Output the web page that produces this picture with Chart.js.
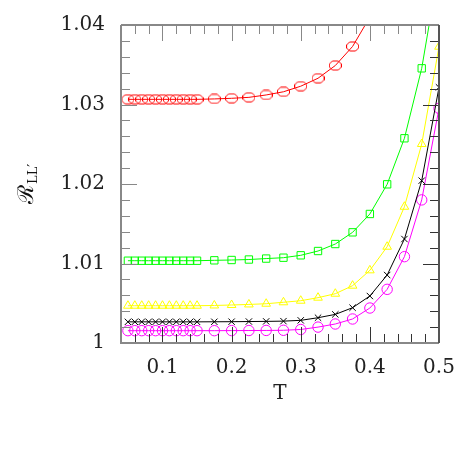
<!DOCTYPE html>
<html>
<head>
<meta charset="utf-8">
<script src="https://cdn.jsdelivr.net/npm/chart.js@4"></script>
<style>
  html, body { margin: 0; padding: 0; background: #fff; }
  canvas { display: block; }
</style>
</head>
<body>
<canvas id="chart" width="463" height="463"></canvas>
<script>
// temperatures (shared by all curves)
const temps = [0.05, 0.06, 0.07, 0.08, 0.09, 0.10, 0.11, 0.12, 0.13, 0.14, 0.15,
               0.175, 0.2, 0.225, 0.25, 0.275, 0.3, 0.325, 0.35, 0.375, 0.4,
               0.425, 0.45, 0.475, 0.5];

const redVals = [1.03065, 1.03065, 1.03065, 1.03065, 1.03065, 1.03065, 1.03065, 1.03065, 1.03065, 1.03065, 1.03065,
                 1.0307, 1.03078, 1.0309, 1.0312, 1.0316, 1.0323, 1.0333, 1.0349, 1.0373, 1.0410];
const greenVals = [1.01035, 1.01035, 1.01035, 1.01035, 1.01035, 1.01035, 1.01035, 1.01035, 1.01035, 1.01035, 1.01035,
                   1.0104, 1.01044, 1.0105, 1.01062, 1.01073, 1.01103, 1.01157, 1.01245, 1.01392, 1.01623,
                   1.01996, 1.02575, 1.03455, 1.0473];
const yellowVals = [1.00469, 1.00469, 1.00469, 1.00469, 1.00469, 1.00469, 1.00469, 1.00469, 1.00469, 1.00469, 1.00469,
                    1.00472, 1.00478, 1.00485, 1.00494, 1.00512, 1.00532, 1.0057, 1.0062, 1.00721, 1.00914,
                    1.01211, 1.01714, 1.02503, 1.03727];
const blackVals = [1.00266, 1.00266, 1.00266, 1.00266, 1.00266, 1.00266, 1.00266, 1.00266, 1.00266, 1.00266, 1.00266,
                   1.00267, 1.00268, 1.0027, 1.00272, 1.00275, 1.00285, 1.00318, 1.0036, 1.00444, 1.00591,
                   1.00855, 1.01308, 1.02042, 1.03216];
const magentaVals = [1.00155, 1.00155, 1.00155, 1.00155, 1.00155, 1.00155, 1.00155, 1.00155, 1.00155, 1.00155, 1.00155,
                     1.00155, 1.00156, 1.00157, 1.00158, 1.0016, 1.0017, 1.002, 1.00239, 1.00302, 1.0044,
                     1.00675, 1.01086, 1.018, 1.02952];

const xMin = 0.04, xMax = 0.5, xStep = 0.02;
const yMin = 1.0, yMax = 1.04, yStep = 0.002;

const FONT = "'DejaVu Serif', 'Liberation Serif', serif";

function pts(vals) {
    return vals.map((v, i) => ({ x: temps[i], y: v }));
}

// red marker: squashed octagon
function octagon(color) {
    const c = document.createElement('canvas');
    c.width = 13; c.height = 11;
    const g = c.getContext('2d');
    g.strokeStyle = color;
    g.lineWidth = 1;
    g.beginPath();
    g.moveTo(0.5, 4); g.lineTo(3.5, 1); g.lineTo(9.5, 1); g.lineTo(12.5, 4);
    g.lineTo(12.5, 7); g.lineTo(9.5, 10); g.lineTo(3.5, 10); g.lineTo(0.5, 7);
    g.closePath();
    g.stroke();
    return c;
}

function series(vals, color, style, radius) {
    return {
        data: pts(vals),
        borderColor: color,
        backgroundColor: 'transparent',
        borderWidth: 1,
        pointStyle: style,
        pointRadius: radius,
        pointBorderColor: color,
        pointBorderWidth: 1,
        pointBackgroundColor: 'transparent',
        tension: 0,
        clip: 0
    };
}

function isMajor(v, per) {
    return Math.abs(Math.round(v * per) - v * per) < 1e-6;
}

// inward tick marks on all four sides + frame
const frame = {
    id: 'frame',
    afterDraw(chart) {
        const { ctx, chartArea: a, scales } = chart;
        ctx.save();
        ctx.lineWidth = 1;
        scales.x.ticks.forEach(t => {
            const px = Math.round(scales.x.getPixelForValue(t.value)) + 0.5;
            const len = isMajor(t.value, 10) ? 16 : 9;
            ctx.strokeStyle = '#333';
            ctx.beginPath(); ctx.moveTo(px, a.bottom); ctx.lineTo(px, a.bottom - len); ctx.stroke();
            ctx.strokeStyle = '#888';
            ctx.beginPath(); ctx.moveTo(px, a.top); ctx.lineTo(px, a.top + len); ctx.stroke();
        });
        scales.y.ticks.forEach(t => {
            const py = Math.round(scales.y.getPixelForValue(t.value)) + 0.5;
            const len = isMajor(t.value, 100) ? 16 : 9;
            ctx.strokeStyle = '#888';
            ctx.beginPath(); ctx.moveTo(a.left, py); ctx.lineTo(a.left + len, py); ctx.stroke();
            ctx.strokeStyle = '#333';
            ctx.beginPath(); ctx.moveTo(a.right, py); ctx.lineTo(a.right - len, py); ctx.stroke();
        });
        ctx.lineWidth = 2;
        ctx.strokeStyle = '#888';
        ctx.beginPath();
        ctx.moveTo(a.left, a.top); ctx.lineTo(a.right, a.top);
        ctx.moveTo(a.left, a.top); ctx.lineTo(a.left, a.bottom); ctx.lineTo(a.right, a.bottom);
        ctx.stroke();
        ctx.strokeStyle = '#555';
        ctx.beginPath(); ctx.moveTo(a.right, a.top); ctx.lineTo(a.right, a.bottom); ctx.stroke();

        // y axis title: script R with subscript LL'
        ctx.fillStyle = '#111';
        ctx.translate(33, 204);
        ctx.rotate(-Math.PI / 2);
        ctx.textBaseline = 'alphabetic';
        ctx.textAlign = 'left';
        ctx.font = "22px " + FONT;
        ctx.fillText('ℛ', 0, 0);
        const w = ctx.measureText('ℛ').width;
        ctx.font = "13px " + FONT;
        ctx.fillText('LL′', w + 1, 4);
        ctx.restore();
    }
};

const ctx = document.getElementById('chart').getContext('2d');

new Chart(ctx, {
    type: 'line',
    data: {
        datasets: [
            series(redVals, '#ff0000', octagon('#ff0000'), 5),
            series(greenVals, '#00ff00', 'rect', 5.2),
            series(yellowVals, '#ffff00', 'triangle', 5),
            series(blackVals, '#000000', 'crossRot', 4.5),
            series(magentaVals, '#ff00ff', 'circle', 5.2)
        ]
    },
    options: {
        responsive: false,
        animation: false,
        layout: { padding: { top: 25, right: 24, left: 0, bottom: 0 } },
        plugins: { legend: { display: false }, tooltip: { enabled: false } },
        scales: {
            x: {
                type: 'linear',
                min: xMin,
                max: xMax,
                grid: { display: false, drawTicks: false },
                border: { display: false },
                afterFit: s => { s.height = 120; s.paddingLeft = 0; s.paddingRight = 0; },
                ticks: {
                    stepSize: xStep,
                    autoSkip: false,
                    maxRotation: 0,
                    padding: 13,
                    color: '#222',
                    font: { family: FONT, size: 20 },
                    callback: v => isMajor(v, 10) ? v.toFixed(1) : ''
                },
                title: {
                    display: true,
                    text: 'T',
                    color: '#222',
                    font: { family: FONT, size: 20 },
                    padding: { top: 0, bottom: 57 }
                }
            },
            y: {
                type: 'linear',
                min: yMin,
                max: yMax,
                grid: { display: false, drawTicks: false },
                border: { display: false },
                afterFit: s => { s.width = 121; s.paddingTop = 0; s.paddingBottom = 0; },
                ticks: {
                    stepSize: yStep,
                    autoSkip: false,
                    padding: 16,
                    color: '#222',
                    font: { family: FONT, size: 20 },
                    callback: v => isMajor(v, 100) ? (Math.abs(v - 1) < 1e-9 ? '1' : v.toFixed(2)) : ''
                }
            }
        }
    },
    plugins: [frame]
});
</script>
</body>
</html>
